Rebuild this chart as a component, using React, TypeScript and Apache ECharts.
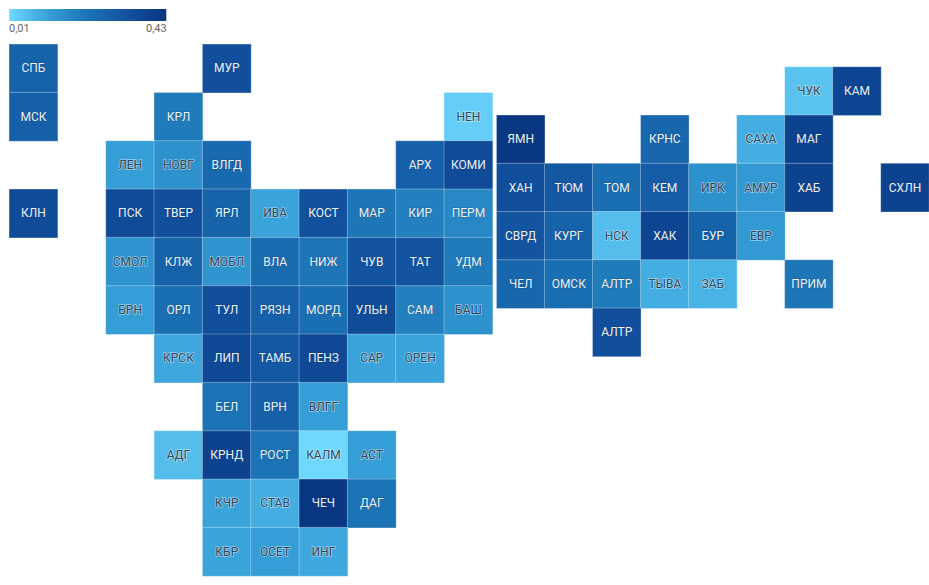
import React, { useEffect, useRef } from "react";
import * as echarts from "echarts";

const minLabel = "0,01";
const maxLabel = "0,43";
const minValue = 0.01;
const maxValue = 0.43;

const _ = null;

const westCodes = [
  ["СПБ", _, _, _, "МУР", _, _, _, _, _],
  ["МСК", _, _, "КРЛ", _, _, _, _, _, "НЕН"],
  [_, _, "ЛЕН", "НОВГ", "ВЛГД", _, _, _, "АРХ", "КОМИ"],
  ["КЛН", _, "ПСК", "ТВЕР", "ЯРЛ", "ИВА", "КОСТ", "МАР", "КИР", "ПЕРМ"],
  [_, _, "СМОЛ", "КЛЖ", "МОБЛ", "ВЛА", "НИЖ", "ЧУВ", "ТАТ", "УДМ"],
  [_, _, "БРН", "ОРЛ", "ТУЛ", "РЯЗН", "МОРД", "УЛЬН", "САМ", "БАШ"],
  [_, _, _, "КРСК", "ЛИП", "ТАМБ", "ПЕНЗ", "САР", "ОРЕН", _],
  [_, _, _, _, "БЕЛ", "ВРН", "ВЛГГ", _, _, _],
  [_, _, _, "АДГ", "КРНД", "РОСТ", "КАЛМ", "АСТ", _, _],
  [_, _, _, _, "КЧР", "СТАВ", "ЧЕЧ", "ДАГ", _, _],
  [_, _, _, _, "КБР", "ОСЕТ", "ИНГ", _, _, _],
];

const westValues = [
  [0.27, _, _, _, 0.34, _, _, _, _, _],
  [0.28, _, _, 0.2, _, _, _, _, _, 0.03],
  [_, _, 0.12, 0.15, 0.25, _, _, _, 0.28, 0.35],
  [0.35, _, 0.35, 0.34, 0.27, 0.11, 0.33, 0.21, 0.19, 0.17],
  [_, _, 0.14, 0.27, 0.14, 0.24, 0.21, 0.32, 0.32, 0.2],
  [_, _, 0.12, 0.23, 0.34, 0.28, 0.23, 0.35, 0.19, 0.15],
  [_, _, _, 0.1, 0.36, 0.31, 0.36, 0.11, 0.11, _],
  [_, _, _, _, 0.22, 0.28, 0.12, _, _, _],
  [_, _, _, 0.06, 0.38, 0.22, 0.01, 0.12, _, _],
  [_, _, _, _, 0.11, 0.09, 0.42, 0.22, _, _],
  [_, _, _, _, 0.11, 0.12, 0.1, _, _, _],
];

const eastCodes = [
  [_, _, _, _, _, _, "ЧУК", "КАМ", _],
  ["ЯМН", _, _, "КРНС", _, "САХА", "МАГ", _, _],
  ["ХАН", "ТЮМ", "ТОМ", "КЕМ", "ИРК", "АМУР", "ХАБ", _, "СХЛН"],
  ["СВРД", "КУРГ", "НСК", "ХАК", "БУР", "ЕВР", _, _, _],
  ["ЧЕЛ", "ОМСК", "АЛТР", "ТЫВА", "ЗАБ", _, "ПРИМ", _, _],
  [_, _, "АЛТР", _, _, _, _, _, _],
];

const eastValues = [
  [_, _, _, _, _, _, 0.05, 0.37, _],
  [0.42, _, _, 0.26, _, 0.09, 0.38, _, _],
  [0.34, 0.31, 0.23, 0.29, 0.15, 0.13, 0.38, _, 0.38],
  [0.32, 0.27, 0.06, 0.37, 0.27, 0.13, _, _, _],
  [0.26, 0.23, 0.2, 0.09, 0.08, _, 0.21, _, _],
  [_, _, 0.34, _, _, _, _, _, _],
];

const rampColors = ["#6fd8ff", "#36a0d8", "#1b72b4", "#1352a0", "#08347f"];

const indexLabels = (n: number) => Array.from({ length: n }, (_v, i) => String(i));

function tiles(codes: (string | null)[][], values: (number | null)[][]) {
  const out: any[] = [];
  codes.forEach((row, r) =>
    row.forEach((code, c) => {
      const v = values[r][c];
      if (code === null || v === null) return;
      const light = v < 0.165;
      out.push({
        name: code,
        value: [c, r, v],
        label: light
          ? { color: "#33475c", textBorderColor: "rgba(235,245,252,0.55)", textBorderWidth: 1.5 }
          : { color: "#eef5fb", textBorderColor: "rgba(10,40,90,0.35)", textBorderWidth: 1 },
      });
    })
  );
  return out;
}

function tileSeries(grid: number, codes: any, values: any) {
  return {
    type: "heatmap",
    coordinateSystem: "cartesian2d",
    xAxisIndex: grid,
    yAxisIndex: grid,
    data: tiles(codes, values),
    itemStyle: { borderColor: "rgba(255,255,255,0.3)", borderWidth: 1 },
    label: {
      show: true,
      formatter: (p: any) => p.name,
      fontFamily: "Roboto",
      fontSize: 12,
    },
    emphasis: { disabled: true },
  };
}

export default function App() {
  const ref = useRef<HTMLDivElement>(null);
  useEffect(() => {
    const chart = echarts.init(ref.current!, null, { renderer: "svg" });
    const hiddenX = (n: number, g: number) => ({
      type: "category",
      gridIndex: g,
      data: indexLabels(n),
      show: false,
    });
    const hiddenY = (n: number, g: number) => ({
      type: "category",
      gridIndex: g,
      data: indexLabels(n),
      inverse: true,
      show: false,
    });
    chart.setOption({
      animation: false,
      backgroundColor: "#ffffff",
      grid: [
        { left: 9.3, top: 44.3, width: 483.3, height: 531.7 },
        { left: 496.7, top: 67, width: 434.3, height: 289.5 },
      ],
      xAxis: [hiddenX(10, 0), hiddenX(9, 1)],
      yAxis: [hiddenY(11, 0), hiddenY(6, 1)],
      visualMap: {
        type: "continuous",
        show: false,
        min: minValue,
        max: maxValue,
        dimension: 2,
        seriesIndex: [0, 1],
        inRange: { color: rampColors },
      },
      graphic: [
        {
          type: "rect",
          left: 9.3,
          top: 9,
          shape: { width: 157, height: 12 },
          style: {
            fill: new echarts.graphic.LinearGradient(
              0,
              0,
              1,
              0,
              rampColors.map((color, i) => ({ offset: i / (rampColors.length - 1), color }))
            ),
          },
        },
        {
          type: "text",
          left: 9,
          top: 23,
          style: { text: minLabel, fontFamily: "Roboto", fontSize: 11, fill: "#666666" },
        },
        {
          type: "text",
          left: 146,
          top: 23,
          style: { text: maxLabel, fontFamily: "Roboto", fontSize: 11, fill: "#666666" },
        },
      ],
      series: [tileSeries(0, westCodes, westValues), tileSeries(1, eastCodes, eastValues)],
    });
    return () => chart.dispose();
  }, []);
  return (
    <div style={{ position: "fixed", left: 0, top: 0 }}>
      <div ref={ref} style={{ width: 929, height: 585 }} />
    </div>
  );
}
